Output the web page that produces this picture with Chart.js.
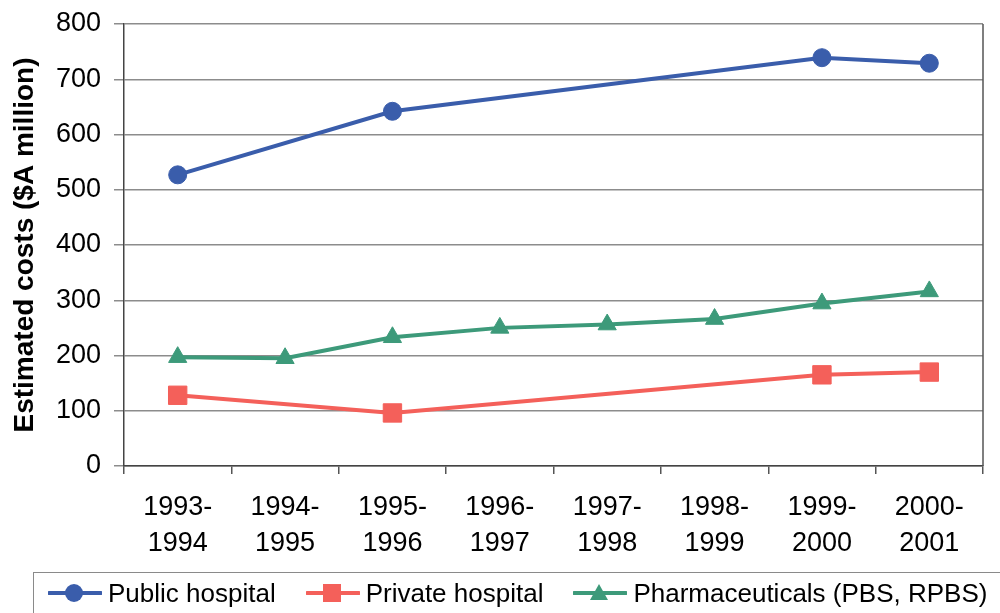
<!DOCTYPE html>
<html>
<head>
<meta charset="utf-8">
<script src="https://cdn.jsdelivr.net/npm/chart.js@4/dist/chart.umd.min.js"></script>
<style>
    html, body { margin: 0; padding: 0; background: #fff; }
    #wrap { position: relative; width: 1000px; height: 613px; overflow: hidden; }
    #costChart { position: absolute; left: 0; top: 0; }
    #legend {
        position: absolute; left: 33px; top: 572px; width: 1000px; height: 50px;
        border: 1.5px solid #8a8a8a; box-sizing: border-box;
        font-family: "Liberation Sans", Arial, sans-serif; font-size: 26px; color: #000;
        display: flex; align-items: center; padding-left: 14px; padding-bottom: 8px;
    }
    .item { display: flex; align-items: center; margin-right: 30px; }
    .item svg { margin-right: 6px; }
</style>
</head>
<body>
<div id="wrap">
    <canvas id="costChart" width="1000" height="613"></canvas>
    <div id="legend"></div>
</div>
<script>
// Chart data
const periods = [
    ['1993-', '1994'], ['1994-', '1995'], ['1995-', '1996'], ['1996-', '1997'],
    ['1997-', '1998'], ['1998-', '1999'], ['1999-', '2000'], ['2000-', '2001']
];
const publicHospital = [527, null, 642, null, null, null, 739, 729];
const privateHospital = [128, null, 96, null, null, null, 165, 170];
const pharmaceuticals = [197, 195, 233, 250, 256, 266, 294, 316];
const yTicks = [0, 100, 200, 300, 400, 500, 600, 700, 800];

const FONT = '"Liberation Sans", Arial, sans-serif';
const seriesInfo = [
    { label: 'Public hospital', data: publicHospital, color: '#3a5dab', point: 'circle', radius: 9 },
    { label: 'Private hospital', data: privateHospital, color: '#f4605a', point: 'rect', radius: 13 },
    { label: 'Pharmaceuticals (PBS, RPBS)', data: pharmaceuticals, color: '#3d9a7a', point: 'triangle', radius: 10.5 }
];

// right frame line of the plot area
const frameRight = {
    id: 'frameRight',
    afterDraw(chart) {
        const a = chart.chartArea;
        const ctx = chart.ctx;
        ctx.save();
        ctx.strokeStyle = '#555';
        ctx.lineWidth = 1.5;
        ctx.beginPath();
        ctx.moveTo(a.right, a.top);
        ctx.lineTo(a.right, a.bottom);
        ctx.stroke();
        ctx.restore();
    }
};

const ctx = document.getElementById('costChart').getContext('2d');
new Chart(ctx, {
    type: 'line',
    data: {
        labels: periods,
        datasets: seriesInfo.map(s => ({
            label: s.label,
            data: s.data,
            borderColor: s.color,
            backgroundColor: s.color,
            borderWidth: 4,
            pointStyle: s.point,
            pointRadius: s.radius,
            pointBorderWidth: 1,
            tension: 0,
            spanGaps: true
        }))
    },
    options: {
        responsive: false,
        animation: false,
        layout: { padding: { top: 24, right: 17, left: 0, bottom: 0 } },
        plugins: {
            legend: { display: false },
            tooltip: { enabled: false }
        },
        scales: {
            x: {
                offset: true,
                afterFit(scale) { scale.height = 147; },
                grid: { offset: true, drawOnChartArea: false, drawTicks: true, tickLength: 8, color: '#555', lineWidth: 1.5 },
                border: { color: '#444', width: 1.5 },
                ticks: {
                    color: '#000', padding: 16, maxRotation: 0, autoSkip: false,
                    font: { family: FONT, size: 27, lineHeight: 1.32 }
                }
            },
            y: {
                min: 0,
                max: 800,
                afterFit(scale) {
                    scale.width = 124;
                    scale.paddingTop = 0;
                    scale.paddingBottom = 0;
                },
                afterBuildTicks(scale) { scale.ticks = yTicks.map(v => ({ value: v })); },
                grid: { color: '#8c8c8c', lineWidth: 1.5, tickLength: 10 },
                border: { color: '#444', width: 1.5 },
                ticks: {
                    color: '#000', padding: 13,
                    font: { family: FONT, size: 27 }
                },
                title: {
                    display: true,
                    text: 'Estimated costs ($A million)',
                    color: '#000',
                    padding: { top: 8, bottom: 0 },
                    font: { family: FONT, size: 28, weight: 'bold' }
                }
            }
        }
    },
    plugins: [frameRight]
});

// legend in HTML: line with marker, then label
function markerSvg(s) {
    let shape;
    if (s.point === 'circle') {
        shape = `<circle cx="26" cy="10" r="9" fill="${s.color}"/>`;
    } else if (s.point === 'rect') {
        shape = `<rect x="17" y="1" width="18" height="18" fill="${s.color}"/>`;
    } else {
        shape = `<polygon points="26,1 35,17 17,17" fill="${s.color}"/>`;
    }
    return `<svg width="54" height="20" viewBox="0 0 54 20">
        <line x1="1" y1="10" x2="53" y2="10" stroke="${s.color}" stroke-width="4" stroke-linecap="round"/>${shape}</svg>`;
}
document.getElementById('legend').innerHTML = seriesInfo.map(s =>
    `<div class="item">${markerSvg(s)}<span>${s.label}</span></div>`
).join('');
</script>
</body>
</html>
